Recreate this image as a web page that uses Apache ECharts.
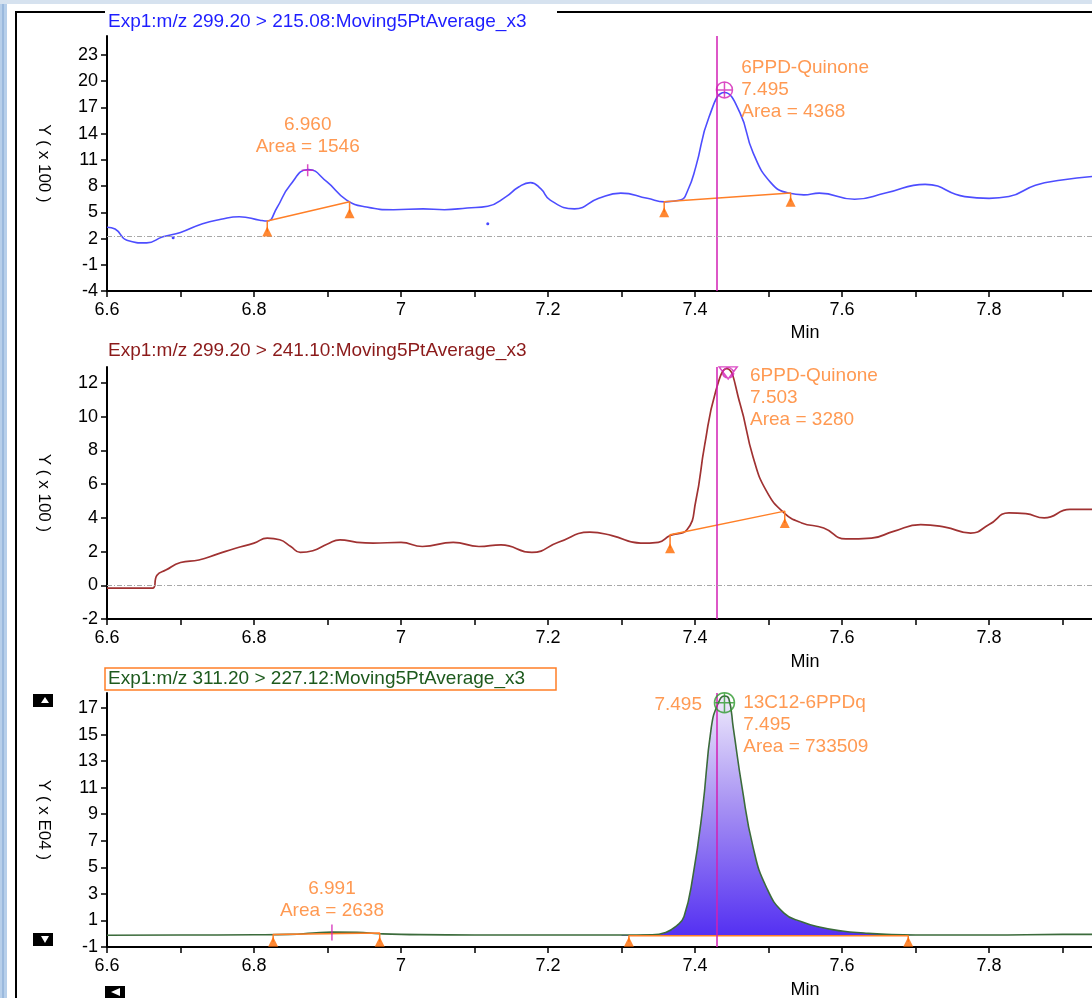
<!DOCTYPE html>
<html>
<head>
<meta charset="utf-8">
<title>6PPD-Quinone chromatograms</title>
<script src="https://cdn.jsdelivr.net/npm/echarts@6/dist/echarts.min.js"></script>
<style>
  html, body { margin: 0; padding: 0; background: #fff; }
  #chart { width: 1092px; height: 998px; }
</style>
</head>
<body>
<div id="chart"></div>
<script>
/* ---- data ---- */

// panel 1 : m/z 299.20 > 215.08 (x100)
var blueX = [6.600, 6.611, 6.627, 6.654, 6.676, 6.700, 6.730, 6.755, 6.780, 6.808, 6.818, 6.831, 6.849, 6.874, 6.899, 6.926, 6.953, 6.990,
             7.030, 7.059, 7.090, 7.118, 7.143, 7.160, 7.176, 7.190, 7.203, 7.236, 7.269, 7.299, 7.335, 7.359, 7.380, 7.390, 7.401, 7.419, 7.440,
             7.461, 7.479, 7.503, 7.527, 7.548, 7.569, 7.617, 7.659, 7.713, 7.767, 7.800, 7.827, 7.863, 7.899, 7.940];
var blueY = [3.3, 3.1, 1.8, 1.5, 2.2, 2.7, 3.7, 4.2, 4.5, 4.1, 4.0, 5.5, 8.1, 9.9, 8.5, 6.4, 5.6, 5.3,
             5.4, 5.3, 5.5, 5.7, 6.8, 7.9, 8.4, 7.7, 6.4, 5.4, 6.6, 7.2, 6.6, 6.2, 6.4, 7.5, 10.2, 15.9, 18.7,
             16.4, 11.8, 8.4, 7.2, 7.0, 7.2, 6.5, 7.2, 8.2, 6.8, 6.6, 6.8, 8.1, 8.7, 9.1];
var blueDots = [[6.690, 2.1], [7.118, 3.7]];
var p1Noise = 2.3;
var p1BaseA = [[6.818, 2.8], [6.818, 4.0], [6.930, 6.2], [6.930, 4.9]];
var p1BaseB = [[7.358, 5.0], [7.358, 6.2], [7.530, 7.2], [7.530, 6.2]];
var p1Tri = [[6.818, 2.8], [6.930, 4.9], [7.358, 5.0], [7.530, 6.2]];
var p1MinorApex = [6.873, 9.8];
var p1MajorApex = [7.440, 19.0];
var p1MinorText = '6.960\nArea = 1546';
var p1MajorText = '6PPD-Quinone\n7.495\nArea = 4368';

// panel 2 : m/z 299.20 > 241.10 (x100)
var redX = [6.600, 6.640, 6.662, 6.668, 6.680, 6.700, 6.725, 6.750, 6.775, 6.800, 6.818, 6.835, 6.850, 6.863, 6.880, 6.900, 6.917, 6.940, 6.962,
            7.000, 7.029, 7.071, 7.106, 7.136, 7.178, 7.214, 7.257, 7.287, 7.326, 7.350, 7.366, 7.389, 7.401, 7.413, 7.428, 7.443,
            7.461, 7.479, 7.497, 7.521, 7.545, 7.575, 7.605, 7.640, 7.670, 7.707, 7.740, 7.775, 7.800, 7.827, 7.850, 7.875, 7.910, 7.940];
var redY = [-0.17, -0.17, -0.17, 0.6, 0.9, 1.35, 1.5, 1.85, 2.2, 2.5, 2.8, 2.7, 2.3, 1.95, 2.05, 2.45, 2.7, 2.55, 2.5,
            2.55, 2.3, 2.55, 2.3, 2.4, 1.95, 2.55, 3.15, 2.95, 2.5, 2.55, 2.95, 3.3, 5.0, 8.3, 11.5, 12.85,
            10.8, 7.6, 5.6, 4.3, 3.7, 3.4, 2.75, 2.8, 3.2, 3.6, 3.45, 3.1, 3.6, 4.3, 4.25, 4.0, 4.5, 4.5];
var p2Noise = 0;
var p2Base = [[7.366, 2.2], [7.366, 3.0], [7.522, 4.4], [7.522, 3.7]];
var p2Tri = [[7.366, 2.2], [7.522, 3.7]];
var p2Apex = [7.445, 12.6];
var p2Text = '6PPD-Quinone\n7.503\nArea = 3280';

// panel 3 : m/z 311.20 > 227.12 (xE04)
var greenX = [6.600, 6.700, 6.800, 6.850, 6.880, 6.906, 6.940, 6.971, 7.000, 7.100, 7.200, 7.300, 7.340, 7.360, 7.375, 7.385,
              7.397, 7.410, 7.422, 7.431, 7.440, 7.446, 7.452, 7.464, 7.479, 7.497, 7.521, 7.545, 7.569, 7.600, 7.630,
              7.660, 7.700, 7.800, 7.900, 7.940];
var greenY = [-0.12, -0.1, -0.08, -0.05, 0.05, 0.12, 0.1, 0.0, -0.05, -0.1, -0.1, -0.1, -0.08, 0.1, 0.6, 1.3,
              4.3, 9.3, 15.5, 17.3, 17.9, 17.7, 15.5, 11.0, 6.5, 3.5, 1.55, 0.9, 0.5, 0.2, 0.05,
              -0.05, -0.1, -0.1, -0.05, -0.05];
var p3AreaFrom = 7.30, p3AreaTo = 7.70, p3AreaBase = -0.15;
var p3BaseA = [[6.826, -0.6], [6.826, -0.05], [6.971, 0.05], [6.971, -0.6]];
var p3BaseB = [[7.310, -0.6], [7.310, -0.15], [7.690, -0.15], [7.690, -0.6]];
var p3Tri = [[6.826, -0.6], [6.971, -0.6], [7.310, -0.6], [7.690, -0.6]];
var p3MinorApex = [6.906, 0.1];
var p3Apex = [7.440, 17.4];
var p3MinorText = '6.991\nArea = 2638';
var p3Text = '13C12-6PPDq\n7.495\nArea = 733509';
var p3LeftText = '7.495';

// common
var rtLine = 7.433;
var titles = ['Exp1:m/z 299.20 > 215.08:Moving5PtAverage_x3',
              'Exp1:m/z 299.20 > 241.10:Moving5PtAverage_x3',
              'Exp1:m/z 311.20 > 227.12:Moving5PtAverage_x3'];
var yNames = ['Y ( x 100 )', 'Y ( x 100 )', 'Y ( x E04 )'];

/* ---- styling ---- */
var FONT = '"Liberation Sans", Arial, sans-serif';
var ORANGE = '#ff7f27';
var TRI = '#ff6a00';
var MAG = '#d21fb5';
var SMOOTH = 0.5;

function zip(xs, ys) {
    return xs.map(function (x, i) { return [x, ys[i]]; });
}

function xAxisOf(i) {
    return {
        type: 'value', gridIndex: i, min: 6.6, max: 7.94, interval: 0.1,
        axisLine: { onZero: false, lineStyle: { color: '#000', width: 2 } },
        axisTick: { length: 6, lineStyle: { color: '#000', width: 1.5 } },
        axisLabel: {
            color: '#000', fontSize: 18, fontFamily: FONT, margin: 10, showMaxLabel: false,
            formatter: function (v) {
                var k = Math.round(v * 10);
                return k % 2 === 0 ? String(k / 10) : '';
            }
        },
        splitLine: { show: false }
    };
}

function yAxisOf(i, min, max, step) {
    return {
        type: 'value', gridIndex: i, min: min, max: max, interval: step,
        name: yNames[i], nameLocation: 'middle', nameRotate: -90, nameGap: 55,
        nameTextStyle: { color: '#000', fontSize: 17, fontFamily: FONT },
        axisLine: { show: true, onZero: false, lineStyle: { color: '#000', width: 2 } },
        axisTick: { show: true, length: 6, lineStyle: { color: '#000', width: 1.5 } },
        axisLabel: { color: '#000', fontSize: 18, fontFamily: FONT, margin: 9, showMaxLabel: false },
        splitLine: { show: false }
    };
}

function marks(noiseY) {
    var d = [{ xAxis: rtLine, lineStyle: { color: MAG, width: 1.5, type: 'solid' } }];
    if (noiseY !== null) {
        d.push({ yAxis: noiseY, lineStyle: { color: '#a8a8a8', width: 1, type: [5, 2, 1, 2] } });
    }
    return { silent: true, symbol: 'none', label: { show: false }, animation: false, data: d };
}

function baseLine(i, pts) {
    return { type: 'line', xAxisIndex: i, yAxisIndex: i, data: pts, symbol: 'none',
             lineStyle: { color: ORANGE, width: 1.5 }, z: 4 };
}

function tris(i, pts) {
    return { type: 'scatter', xAxisIndex: i, yAxisIndex: i, data: pts, symbol: 'triangle',
             symbolSize: [10, 10], itemStyle: { color: TRI }, z: 5 };
}

function textLabel(text, pos, dist, align, offset) {
    return {
        show: true, position: pos, distance: dist, align: align, offset: offset || [0, 0],
        formatter: function () { return text; },
        color: ORANGE, fontSize: 19, lineHeight: 22, fontFamily: FONT
    };
}

var PLUS = 'path://M5,0V10M0,5H10';
var CIRCLE_CROSS = 'path://M0,10A10,10 0 1,1 20,10A10,10 0 1,1 0,10ZM0,10H20M10,0V20';
var DOWN_TRI = 'path://M0,0H20L10,14ZM4,7A6,6 0 1,1 16,7A6,6 0 1,1 4,7Z';

var greenArea = zip(greenX, greenY).filter(function (p) {
    return p[0] >= p3AreaFrom && p[0] <= p3AreaTo;
});

var chart = echarts.init(document.getElementById('chart'));
var option = {
    animation: false,
    backgroundColor: '#fff',
    title: [
        { text: titles[0], left: 108, top: 12, padding: 0,
          textStyle: { color: '#1e1eff', fontSize: 19, fontWeight: 'normal', fontFamily: FONT } },
        { text: titles[1], left: 108, top: 341, padding: 0,
          textStyle: { color: '#8b1a1a', fontSize: 19, fontWeight: 'normal', fontFamily: FONT } },
        { text: titles[2], left: 108, top: 669, padding: 0,
          textStyle: { color: '#1d5a1d', fontSize: 19, fontWeight: 'normal', fontFamily: FONT } }
    ],
    grid: [
        { left: 107, right: 0, top: 36, height: 255 },
        { left: 107, right: 0, top: 367, height: 252 },
        { left: 107, right: 0, top: 693, height: 254 }
    ],
    xAxis: [xAxisOf(0), xAxisOf(1), xAxisOf(2)],
    yAxis: [
        yAxisOf(0, -4, 25.17, 3),
        yAxisOf(1, -2, 12.95, 2),
        yAxisOf(2, -1, 18.13, 2)
    ],
    series: [
        // panel 1
        { type: 'line', xAxisIndex: 0, yAxisIndex: 0, data: zip(blueX, blueY), smooth: SMOOTH,
          symbol: 'none', lineStyle: { color: '#4d4dff', width: 1.6 }, markLine: marks(p1Noise), z: 3 },
        baseLine(0, p1BaseA), baseLine(0, p1BaseB), tris(0, p1Tri),
        { type: 'scatter', xAxisIndex: 0, yAxisIndex: 0, data: blueDots, symbolSize: 3,
          itemStyle: { color: '#1a1aff' } },
        { type: 'scatter', xAxisIndex: 0, yAxisIndex: 0, data: [p1MinorApex], symbol: PLUS, symbolSize: 12,
          itemStyle: { color: 'transparent', borderColor: MAG, borderWidth: 1.5 },
          label: textLabel(p1MinorText, 'top', 6, 'center'), z: 6 },
        { type: 'scatter', xAxisIndex: 0, yAxisIndex: 0, data: [p1MajorApex], symbol: CIRCLE_CROSS, symbolSize: 16,
          itemStyle: { color: 'transparent', borderColor: MAG, borderWidth: 1.5 },
          label: textLabel(p1MajorText, 'right', 8, 'left'), z: 6 },

        // panel 2
        { type: 'line', xAxisIndex: 1, yAxisIndex: 1, data: zip(redX, redY), smooth: SMOOTH,
          symbol: 'none', lineStyle: { color: '#a03232', width: 1.7 }, markLine: marks(p2Noise), z: 3 },
        baseLine(1, p2Base), tris(1, p2Tri),
        { type: 'scatter', xAxisIndex: 1, yAxisIndex: 1, data: [p2Apex], symbol: DOWN_TRI, symbolSize: [18, 12],
          itemStyle: { color: 'transparent', borderColor: MAG, borderWidth: 1.5 },
          label: textLabel(p2Text, 'right', 12, 'left', [0, 25]), z: 6 },

        // panel 3
        { type: 'line', xAxisIndex: 2, yAxisIndex: 2, data: greenArea, smooth: SMOOTH,
          symbol: 'none', lineStyle: { width: 0 },
          areaStyle: {
              origin: p3AreaBase, opacity: 1,
              color: new echarts.graphic.LinearGradient(0, 0, 0, 1, [
                  { offset: 0, color: '#efebfc' },
                  { offset: 0.45, color: '#a893f3' },
                  { offset: 1, color: '#5430f2' }
              ])
          }, z: 2 },
        { type: 'line', xAxisIndex: 2, yAxisIndex: 2, data: zip(greenX, greenY), smooth: SMOOTH,
          symbol: 'none', lineStyle: { color: '#3b6b3b', width: 1.6 }, markLine: marks(null), z: 3 },
        baseLine(2, p3BaseA), baseLine(2, p3BaseB), tris(2, p3Tri),
        { type: 'scatter', xAxisIndex: 2, yAxisIndex: 2, data: [p3MinorApex], symbol: 'rect', symbolSize: [1.5, 16],
          itemStyle: { color: MAG },
          label: textLabel(p3MinorText, 'top', 3, 'center'), z: 6 },
        { type: 'scatter', xAxisIndex: 2, yAxisIndex: 2, data: [p3Apex], symbol: CIRCLE_CROSS, symbolSize: 20,
          itemStyle: { color: 'transparent', borderColor: '#2e9a2e', borderWidth: 1.5 },
          label: textLabel(p3Text, 'right', 8, 'left', [0, 22]), z: 6 },
        { type: 'scatter', xAxisIndex: 2, yAxisIndex: 2, data: [p3Apex], symbolSize: 1,
          itemStyle: { color: 'transparent' },
          label: textLabel(p3LeftText, 'left', 22, 'right', [0, 2]), z: 6 }
    ],
    graphic: [
        // window border
        { type: 'rect', shape: { x: 0, y: 0, width: 7, height: 998 }, style: { fill: '#b7cfea' }, silent: true },
        { type: 'line', shape: { x1: 3, y1: 0, x2: 3, y2: 998 }, style: { stroke: '#7fa3d0', lineWidth: 1 }, silent: true },
        { type: 'rect', shape: { x: 0, y: 0, width: 1092, height: 4 }, style: { fill: '#d6e2ef' }, silent: true },
        { type: 'polyline', shape: { points: [[16, 998], [16, 12], [105, 12]] }, style: { stroke: '#000', lineWidth: 2, fill: null }, silent: true },
        { type: 'line', shape: { x1: 557, y1: 12, x2: 1092, y2: 12 }, style: { stroke: '#000', lineWidth: 2 }, silent: true },
        // box round third title
        { type: 'rect', shape: { x: 105, y: 668, width: 451, height: 22 }, style: { fill: null, stroke: ORANGE, lineWidth: 1.5 }, silent: true },
        // "Min" under each x axis
        { type: 'text', x: 805, y: 333, style: { text: 'Min', fill: '#000', font: '18px ' + FONT, textAlign: 'center', textVerticalAlign: 'middle' }, silent: true },
        { type: 'text', x: 805, y: 662, style: { text: 'Min', fill: '#000', font: '18px ' + FONT, textAlign: 'center', textVerticalAlign: 'middle' }, silent: true },
        { type: 'text', x: 805, y: 990, style: { text: 'Min', fill: '#000', font: '18px ' + FONT, textAlign: 'center', textVerticalAlign: 'middle' }, silent: true },
        // small scroll buttons
        { type: 'rect', shape: { x: 33, y: 694, width: 20, height: 13 }, style: { fill: '#000' }, silent: true },
        { type: 'polygon', shape: { points: [[45, 697], [49, 703], [41, 703]] }, style: { fill: '#fff' }, silent: true },
        { type: 'rect', shape: { x: 33, y: 933, width: 20, height: 13 }, style: { fill: '#000' }, silent: true },
        { type: 'polygon', shape: { points: [[41, 936], [49, 936], [45, 943]] }, style: { fill: '#fff' }, silent: true },
        { type: 'rect', shape: { x: 105, y: 986, width: 20, height: 12 }, style: { fill: '#000' }, silent: true },
        { type: 'polygon', shape: { points: [[111, 992], [120, 988], [120, 996]] }, style: { fill: '#fff' }, silent: true }
    ]
};
chart.setOption(option);
</script>
</body>
</html>
